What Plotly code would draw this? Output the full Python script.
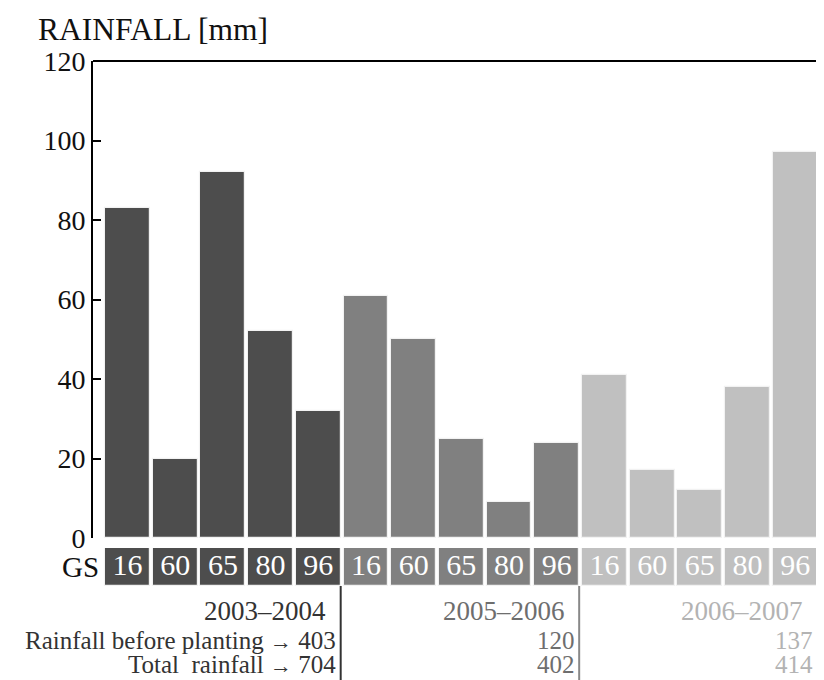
import plotly.graph_objects as go

seasons = ["2003–2004", "2005–2006", "2006–2007"]
gs_stages = ["16", "60", "65", "80", "96"]
rain_2003_2004 = [83, 20, 92, 52, 32]
rain_2005_2006 = [61, 50, 25, 9, 24]
rain_2006_2007 = [41, 17, 12, 38, 97]
before_planting = [403, 120, 137]
total_rainfall = [704, 402, 414]

rain_values = [rain_2003_2004, rain_2005_2006, rain_2006_2007]
bar_colors = ["#4d4d4d", "#808080", "#c0c0c0"]
text_colors = ["#333333", "#6e6e6e", "#b3b3b3"]
line_colors = ["#333333", "#888888", "#cccccc"]

FONT = "Liberation Serif"
fig = go.Figure()

n = len(gs_stages)
for s, season in enumerate(seasons):
    xs = [s * n + j for j in range(n)]
    fig.add_trace(go.Bar(
        x=xs, y=rain_values[s], width=0.94,
        marker=dict(color=bar_colors[s], line=dict(color="#f2f2f2", width=1.2)),
        xaxis="x", yaxis="y", showlegend=False, hoverinfo="y",
    ))
    fig.add_trace(go.Bar(
        x=xs, y=[1] * n, width=0.94,
        marker=dict(color=bar_colors[s], line=dict(color="#f2f2f2", width=1.2)),
        xaxis="x", yaxis="y2", showlegend=False, hoverinfo="skip",
    ))
    fig.add_trace(go.Scatter(
        x=xs, y=[0.5] * n, mode="text", text=gs_stages,
        textfont=dict(family=FONT, size=30, color="#ffffff"),
        xaxis="x", yaxis="y2", showlegend=False, hoverinfo="skip", cliponaxis=False,
    ))

ann = []
shapes = []
row_y = [-0.0476, -0.1029, -0.1486]
for s, season in enumerate(seasons):
    edge = s * n + n - 0.5
    ann.append(dict(x=edge, xref="x", y=row_y[0], yref="paper", text=season,
                    xanchor="right", yanchor="middle", xshift=-14, showarrow=False,
                    font=dict(family=FONT, size=27, color=text_colors[s])))
    bp = str(before_planting[s])
    tr = str(total_rainfall[s])
    if s == 0:
        bp = "Rainfall before planting <span style='font-size:22px'>→</span> " + bp
        tr = "Total  rainfall <span style='font-size:22px'>→</span> " + tr
    ann.append(dict(x=edge, xref="x", y=row_y[1], yref="paper", text=bp,
                    xanchor="right", yanchor="middle", xshift=-4, showarrow=False,
                    font=dict(family=FONT, size=25, color=text_colors[s])))
    ann.append(dict(x=edge, xref="x", y=row_y[2], yref="paper", text=tr,
                    xanchor="right", yanchor="middle", xshift=-4, showarrow=False,
                    font=dict(family=FONT, size=25, color=text_colors[s])))
    shapes.append(dict(type="line", xref="x", yref="paper", x0=edge - 0.03, x1=edge - 0.03,
                       y0=0, y1=-0.18, line=dict(color=line_colors[s], width=2)))

shapes.append(dict(type="line", xref="paper", yref="paper", x0=0, x1=1.01, y0=1, y1=1,
                   line=dict(color="#000000", width=2)))

ann.append(dict(x=-0.078, xref="paper", y=1.0975, yref="paper", text="RAINFALL [mm]",
                xanchor="left", yanchor="top", showarrow=False,
                font=dict(family=FONT, size=31.5, color="#111111")))
ann.append(dict(x=0.011, xref="paper", y=0.036, yref="paper", text="GS",
                xanchor="right", yanchor="middle", showarrow=False,
                font=dict(family=FONT, size=29, color="#111111")))

fig.update_layout(
    width=816, height=672,
    margin=dict(l=85, r=3, t=53, b=94),
    paper_bgcolor="white", plot_bgcolor="white",
    barmode="overlay", bargap=0,
    xaxis=dict(range=[-0.723, 14.54], showticklabels=False, ticks="", showgrid=False,
               zeroline=False, showline=False),
    yaxis=dict(domain=[0.0914, 1], range=[0, 120], tickvals=[0, 20, 40, 60, 80, 100, 120],
               ticks="inside", ticklen=8, tickwidth=2, tickcolor="#000000",
               showline=True, linewidth=2, linecolor="#000000",
               showgrid=False, zeroline=False,
               tickfont=dict(family=FONT, size=28, color="#111111")),
    yaxis2=dict(domain=[0, 0.0724], range=[0, 1], anchor="x", showticklabels=False,
                ticks="", showgrid=False, zeroline=False, showline=False),
    annotations=ann, shapes=shapes,
)

fig.write_html("out.html")
